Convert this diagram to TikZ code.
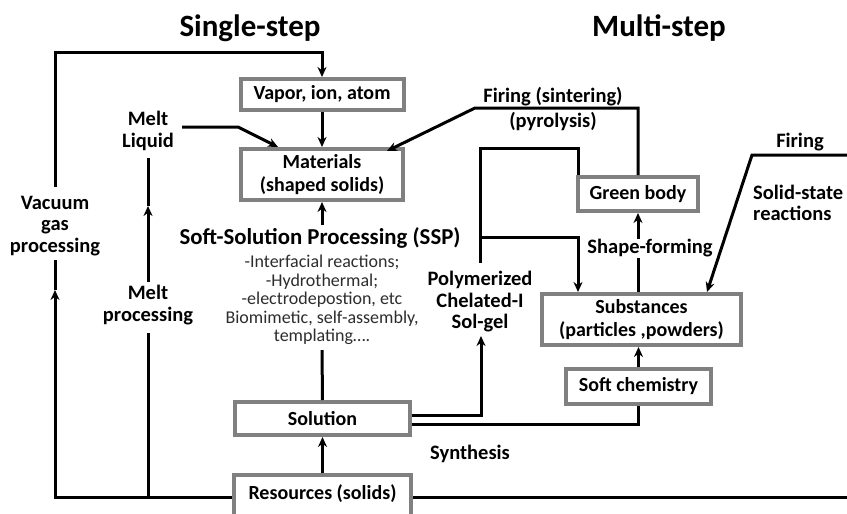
\documentclass[tikz,border=0pt]{standalone}
\usepackage{fontspec}
\setmainfont{Carlito}
\usetikzlibrary{arrows.meta}
\definecolor{boxgray}{RGB}{128,128,128}
\definecolor{smalltext}{RGB}{45,45,45}
\begin{document}
\begin{tikzpicture}[x=1pt,y=-1pt,
  box/.style={draw=boxgray, line width=4pt, fill=white, inner sep=0pt,
    font=\bfseries\fontsize{20}{23}\selectfont, align=center},
  ln/.style={line width=3pt},
  arr/.style={line width=3pt, -{Stealth[length=10pt,width=9pt]}},
  lbl/.style={font=\bfseries\fontsize{20.5}{21.5}\selectfont, align=center, inner sep=0pt},
  ttl/.style={font=\bfseries\fontsize{31}{35}\selectfont, inner sep=0pt},
  small/.style={font=\fontsize{18}{18.6}\selectfont, align=center, text=smalltext, inner sep=0pt}]
\clip (0,0) rectangle (847,514);
\fill[white] (0,0) rectangle (847,514);

% titles
\node[ttl] (t1) at (250,28) {Single-step};
\node[ttl] (t2) at (659,28) {Multi-step};

% boxes
\node[box, minimum width=163pt, minimum height=31pt] (vap) at (322,94.5) {Vapor, ion, atom};
\node[box, minimum width=162pt, minimum height=51pt] (mat) at (322,174.5) {Materials\\(shaped solids)};
\node[box, minimum width=120pt, minimum height=34pt] (green) at (638,194) {Green body};
\node[box, minimum width=199pt, minimum height=51pt] (sub) at (641.5,319.5) {Substances\\(particles ,powders)};
\node[box, minimum width=145pt, minimum height=35pt] (soft) at (638.5,386.5) {Soft chemistry};
\node[box, minimum width=175pt, minimum height=33pt] (sol) at (322.5,418.5) {Solution};
\node[draw=boxgray, line width=4pt, fill=white, inner sep=0pt, font=\bfseries\fontsize{20}{23}\selectfont,
  minimum width=177pt, text height=24pt, text depth=21pt, anchor=north] (res) at (322.5,473) {Resources (solids)};

% labels
\node[lbl] (melt) at (148,131) {Melt\\Liquid};
\node[lbl] (vac) at (55,226) {Vacuum\\gas\\processing};
\node[lbl] (meltp) at (148,305) {Melt\\processing};
\node[lbl] (fire1) at (553,97) {Firing (sintering)};
\node[lbl] (fire2) at (553,122) {(pyrolysis)};
\node[lbl] (shape) at (650,248) {Shape-forming};
\node[lbl] (fire3) at (800,142) {Firing};
\node[lbl, align=left, anchor=west] (solid) at (753,203) {Solid-state\\reactions};
\node[lbl] (poly) at (480,302) {Polymerized\\Chelated-I\\Sol-gel};
\node[lbl] (synth) at (470,454) {Synthesis};
\node[font=\bfseries\fontsize{22.8}{27}\selectfont, inner sep=0pt] (ssp) at (320,238) {Soft-Solution Processing (SSP)};
\node[small] (list) at (322,300) {-Interfacial reactions;\\-Hydrothermal;\\-electrodepostion, etc\\Biomimetic, self-assembly,\\templating….};

% coordinates
\coordinate (vtop) at (55,187);
\coordinate (varr) at (55,290);
\coordinate (vend) at (55,260);
\coordinate (mpJ) at (148,498);
\coordinate (mpB) at (148,333);
\coordinate (mpC) at (148,282);
\coordinate (mpA) at (148,206);
\coordinate (mpT) at (148,158);
\coordinate (mlA) at (182,127);
\coordinate (mlB) at (238,127);
\coordinate (fA) at (475,108);
\coordinate (pA) at (480,148);
\coordinate (pB) at (480,263);
\coordinate (br) at (480,237);
\coordinate (polyB) at (481,336);
\coordinate (frR) at (847,155);
\coordinate (frK) at (752,155);
\coordinate (rR) at (847,498);

% connectors
\draw[arr] (vtop) |- ([yshift=25pt]vap.north) -- (vap.north);
\draw[arr] (vap.south) -- (mat.north);
\draw[arr] (mlA) -- (mlB) -- ([xshift=39pt]mat.north west);
\draw[arr] (green.north) |- (fA) -- ([xshift=-18pt,yshift=-4pt]mat.north east);
\draw[ln] ([xshift=2pt]green.north west) |- (pA) -- (pB);
\draw[arr] (br) -| ([xshift=38pt]sub.north west);
\draw[arr] (shape.north -| green.south) -- (green.south);
\draw[ln] (sub.north -| green.south) -- ([yshift=-1pt]shape.south -| green.south);
\draw[arr] (frR) -- (frK) -- ([xshift=-36pt]sub.north east);
\draw[arr] (soft.north) -- (soft.north |- sub.south);
\draw[ln] (soft.south) |- ([yshift=-5.5pt]sol.east);
\draw[arr] ([yshift=3.5pt]sol.east) -| (polyB);
\draw[arr] (res.north) -- (sol.south);
\draw[arr] ([yshift=2pt]ssp.north -| mat.south) -- (mat.south);
\draw[ln] ([yshift=-5pt]list.south) -- (sol.north);
\draw[arr] (res.west) -| (varr);
\draw[ln] (varr) -- (vend);
\draw[ln] (mpJ) -- (mpB);
\draw[arr] (mpC) -- (mpA);
\draw[ln] (mpA) -- (mpT);
\draw[ln] (res.east) -- (res.east -| rR);
\end{tikzpicture}
\end{document}
